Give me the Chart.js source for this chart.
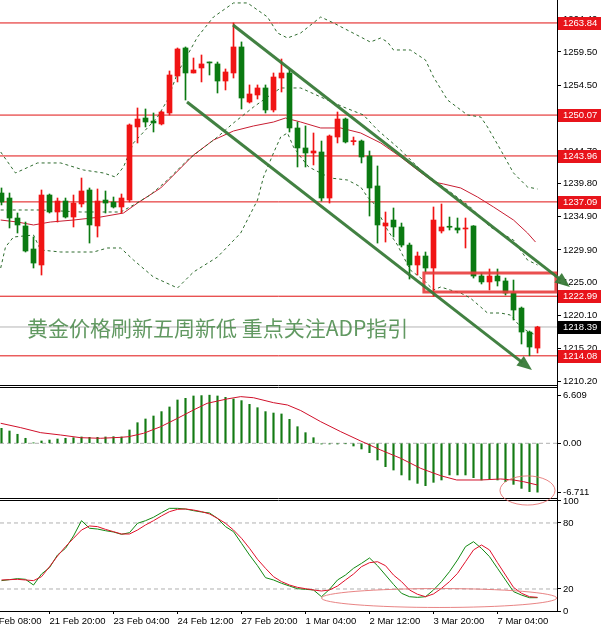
<!DOCTYPE html>
<html>
<head>
<meta charset="utf-8">
<title>XAUUSD H4</title>
<script src="https://cdn.jsdelivr.net/npm/chart.js@4.4.1/dist/chart.umd.min.js"></script>
<style>
  html, body { margin: 0; padding: 0; background: #fff; }
  #wrap { width: 601px; height: 630px; }
</style>
</head>
<body>
<div id="wrap"><canvas id="chart" width="601" height="630"></canvas></div>
<script>
// gold 4H candles, bar 0 is the left edge of the window
var opens  = [1238.42,1237.67,1234.68,1233.49,1230.05,1227.66,1238.12,1235.58,1237.22,1234.83,
              1236.78,1238.87,1233.49,1237.37,1237.07,1236.33,1237.37,1248.29,1249.63,1249.18,
              1248.74,1250.38,1255.91,1260.10,1256.36,1257.11,1257.90,1257.71,1255.16,1256.36,
              1260.25,1252.02,1253.07,1254.12,1250.83,1255.61,1256.36,1248.14,1245.15,1244.40,
              1244.55,1237.67,1246.79,1249.48,1246.10,1246.19,1243.95,1239.47,1233.49,1234.38,
              1233.34,1230.64,1227.66,1229.00,1227.21,1232.74,1233.40,1233.19,1233.04,1233.49,
              1226.01,1225.12,1226.01,1225.27,1223.47,1221.22,1217.64,1215.24];
var highs  = [1239.17,1238.42,1235.43,1234.08,1231.84,1238.87,1238.27,1237.67,1237.67,1238.12,
              1240.66,1239.17,1239.02,1238.72,1237.82,1238.27,1248.74,1251.13,1250.98,1250.38,
              1250.68,1256.66,1260.10,1260.25,1258.60,1259.05,1258.00,1258.00,1256.96,1263.84,
              1261.00,1254.57,1254.57,1254.57,1256.36,1258.45,1256.81,1249.03,1248.44,1247.39,
              1246.19,1247.09,1250.53,1249.63,1246.79,1246.34,1244.70,1242.46,1235.58,1236.18,
              1233.93,1230.94,1229.60,1229.60,1236.33,1236.78,1234.83,1234.68,1234.68,1233.55,
              1226.46,1227.06,1227.06,1225.71,1225.41,1221.38,1217.79,1218.50];
var lows   = [1236.63,1233.19,1232.44,1229.60,1227.21,1226.16,1235.43,1234.08,1234.68,1233.34,
              1236.33,1230.94,1231.84,1235.43,1236.18,1235.43,1237.07,1245.90,1248.29,1247.54,
              1248.59,1250.08,1255.02,1252.32,1256.36,1255.02,1256.06,1253.37,1253.82,1255.61,
              1250.98,1251.87,1252.47,1250.38,1250.53,1253.52,1247.54,1242.31,1242.31,1242.61,
              1237.22,1236.92,1245.90,1245.90,1245.60,1242.91,1234.98,1230.94,1231.09,1231.84,
              1230.35,1225.56,1226.16,1226.61,1222.99,1232.44,1232.89,1232.44,1230.20,1225.71,
              1224.82,1223.92,1224.52,1223.17,1219.43,1215.85,1214.08,1214.50];
var closes = [1237.07,1234.68,1233.64,1229.75,1227.95,1238.12,1235.58,1237.22,1234.83,1236.92,
              1238.72,1233.64,1237.22,1236.92,1236.33,1237.67,1248.59,1249.48,1249.03,1248.89,
              1250.53,1256.06,1259.95,1256.36,1256.81,1257.71,1257.86,1255.16,1256.51,1260.25,
              1252.62,1253.22,1254.12,1250.83,1255.76,1256.36,1248.14,1245.15,1244.40,1244.70,
              1237.67,1246.94,1249.48,1246.05,1246.19,1243.80,1239.17,1233.64,1233.93,1233.34,
              1230.64,1227.66,1229.00,1227.21,1234.38,1233.34,1233.30,1232.89,1233.19,1226.01,
              1225.12,1226.01,1225.27,1223.47,1220.93,1217.64,1215.40,1218.39];

// bollinger bands and moving average as [bar, price]
var bbUpper = [[-0.1,1244.55],[1.75,1241.41],[4.5,1242.91],[7.4,1242.91],[10.25,1241.86],[12.75,1241.41],
  [14.25,1240.81],[15.25,1242.31],[16.5,1245.90],[19.5,1249.78],[20.75,1252.32],[22,1256.36],[24.5,1261.74],
  [26.5,1264.73],[29,1266.83],[30.75,1266.83],[33.25,1264.73],[34.5,1262.34],[35.75,1261.59],[37.4,1262.34],
  [39.9,1264.73],[41.5,1263.84],[44.9,1261.74],[46.1,1260.99],[47.4,1261.59],[48.25,1260.99],[49,1259.80],
  [51.1,1259.80],[53,1258.30],[54,1255.76],[55.75,1252.32],[58.25,1250.08],[59.9,1249.78],[60.75,1248.29],
  [62.4,1244.85],[64,1241.41],[65.75,1239.32],[67,1239.02]];
var bbMiddle = [[-0.1,1235.88],[4.9,1235.88],[9.9,1235.58],[14.9,1235.58],[16.5,1236.63],[18.6,1238.12],
  [20.75,1240.36],[23.25,1243.35],[27,1246.79],[29,1248.89],[31.5,1251.27],[33.25,1252.77],[34.9,1254.12],
  [37.4,1254.12],[40.75,1252.32],[42.75,1251.27],[45.25,1250.08],[47,1247.84],[49.9,1244.85],[52.4,1241.86],
  [54,1240.36],[56.1,1238.57],[58.6,1236.33],[61.1,1233.34],[64,1231.39],[65.75,1228.40],[67,1227.66]];
var bbLower = [[-0.1,1227.21],[0.5,1230.35],[1.5,1231.84],[4,1232.14],[4.9,1229.90],[7.4,1229.60],[11.5,1229.60],
  [13.25,1230.20],[14.9,1230.20],[16.5,1228.40],[19,1225.86],[22,1224.22],[24,1226.61],[27,1228.85],[29.9,1232.44],
  [32,1237.37],[32.75,1240.81],[34,1244.40],[34.9,1246.79],[35.75,1247.39],[36.5,1245.30],[37.4,1243.80],
  [38.4,1242.31],[39.9,1241.41],[41.1,1240.66],[43.25,1240.36],[44.9,1239.32],[45.75,1237.82],[46.5,1236.92],
  [48.25,1232.89],[49.5,1230.64],[51.1,1226.91],[52.75,1225.41],[54,1223.92],[54.9,1224.37],[56.1,1223.92],
  [57.4,1223.47],[58.6,1222.72],[59.9,1221.38],[60.75,1220.48],[62.4,1220.48],[63.6,1220.18],[64.9,1218.39],
  [66.1,1217.49],[67,1217.19]];
var maLine = [[-0.1,1234.38],[2,1234.08],[4,1233.64],[6.1,1234.08],[9,1234.38],[12.4,1234.83],[15.25,1235.43],
  [17,1236.92],[19.9,1239.17],[22.4,1242.16],[24,1244.10],[26.5,1246.34],[29,1247.69],[31.5,1248.44],[34,1249.03],
  [35.5,1249.63],[37.4,1249.03],[39.9,1248.14],[42.4,1248.14],[44.9,1247.39],[47.4,1245.90],[49.9,1243.80],
  [52,1241.86],[54,1240.07],[55.25,1239.77],[57.4,1239.17],[59.5,1237.82],[61.5,1236.33],[64,1234.38],
  [65.75,1232.44],[66.75,1231.09]];

// MACD histogram per bar and its signal line
var macdHist = [2.06,1.69,1.24,0.69,0.04,0.32,0.45,0.59,0.69,0.77,
                0.87,0.82,0.82,0.87,0.91,0.87,1.83,2.83,3.34,3.75,
                4.35,4.99,5.95,6.18,6.50,6.55,6.61,6.50,6.31,6.09,
                5.86,5.35,4.89,4.35,4.16,4.03,3.29,2.28,1.46,0.77,
                -0.1,-0.1,-0.1,-0.05,-0.37,-0.78,-1.29,-2.29,-3.21,-3.67,
                -4.35,-5.04,-5.50,-5.82,-5.36,-5.04,-4.35,-4.35,-4.35,-4.72,
                -5.04,-4.90,-5.04,-5.27,-5.64,-6.19,-6.64,-6.71];
var macdSignal = [[-0.1,2.75],[2.4,2.15],[4.9,1.46],[7.4,1.14],[9.9,0.77],[12.4,0.69],[14.9,0.82],[15.9,0.91],
  [17.75,1.37],[19.9,2.28],[22,3.43],[24,4.58],[25.7,5.49],[28.2,6.09],[29.9,6.41],[31.5,6.26],[34,5.58],
  [35.75,5.26],[37.4,4.5],[39.9,2.97],[42.4,1.60],[44.9,0.32],[47.4,-0.92],[49.9,-2.06],[52.4,-3.44],
  [54.9,-4.45],[56.9,-5.04],[59.9,-5.04],[62.4,-4.90],[64,-5.04],[65.25,-5.27],[67,-5.73]];

// stochastic %K / %D
var stochK = [27.6,28.5,29.4,28.8,23.6,33.6,39.4,50.9,57.0,68.2,
              82.1,75.2,74.5,73.0,71.8,69.7,71.2,79.7,82.1,85.2,
              89.4,93.3,93.3,92.7,91.2,90.0,89.1,84.2,76.7,72.1,
              61.5,50.9,41.2,30.3,28.2,25.2,22.7,20.3,19.7,19.1,
              13.0,19.7,28.2,32.7,38.8,43.3,48.2,41.2,32.7,24.2,
              16.1,13.0,12.4,13.0,19.1,26.7,35.8,46.4,58.5,63.0,
              56.9,49.4,38.8,28.2,17.6,14.5,12.1,12.1];
var stochD = [28.2,28.5,28.8,28.2,27.6,31.2,40.3,50.0,58.5,66.1,
              73.6,77.3,76.7,74.2,72.1,70.0,70.0,73.6,78.2,82.1,
              86.4,90.3,92.4,92.7,91.8,90.3,88.2,84.2,79.7,73.6,
              66.1,57.0,47.0,38.8,31.2,26.7,23.6,21.5,20.3,19.1,
              18.2,19.1,22.7,28.2,33.6,40.3,43.9,44.8,41.2,32.7,
              26.7,19.1,15.2,13.0,15.5,20.6,26.7,34.2,44.8,55.5,
              60.0,55.5,43.9,32.7,21.5,16.1,13.0,12.4];

var levels = [1263.84, 1250.07, 1243.96, 1237.09, 1222.99, 1214.08];
var lastPrice = 1218.39;
var priceTicks = [1264.40, 1259.50, 1254.50, 1249.60, 1244.70, 1239.80, 1234.90, 1229.90, 1225.00, 1220.10, 1215.20, 1210.20];
var macdTicks = [6.609, 0, -6.711];
var stochTicks = [100, 80, 20, 0];
var stochLevels = [80, 20];
var xTickBars = [-2, 6, 14, 22, 30, 38, 46, 54, 62];
var xTickLabels = ['20 Feb 08:00', '21 Feb 20:00', '23 Feb 04:00', '24 Feb 12:00', '27 Feb 20:00',
                   '1 Mar 04:00', '2 Mar 12:00', '3 Mar 20:00', '7 Mar 04:00'];

// hand drawn marks on the screenshot, in bar / price units
var zoneBars = [52.8, 69.3], zonePrices = [1223.62, 1226.46];
var arrows = [[28.94, 1263.54, 71.06, 1224.37], [23.19, 1252.02, 66.31, 1211.96]];
var macdRing = [65.75, -6.48, 3.44, 2.0];
var stochRing = [54.7, 11.8, 14.7, 8.6];
var noteText = '黄金价格刷新五周新低 重点关注ADP指引';
var noteAt = [3.2, 1218.3];

var X_MIN = -0.1875, X_MAX = 69.4375;
var UP = '#f01414', DOWN = '#0b7a12';

Chart.defaults.font.family = '"Liberation Sans", Arial, sans-serif';

function pts(pairs) { return pairs.map(function (p) { return {x: p[0], y: p[1]}; }); }
function flat(v) { return [{x: X_MIN, y: v}, {x: X_MAX, y: v}]; }
function line(data, color, axis, dash, order) {
  return {type: 'line', data: data, borderColor: color, borderWidth: 1, borderDash: dash || [],
          pointRadius: 0, tension: 0, fill: false, yAxisID: axis, order: order || 3};
}

var idx = closes.map(function (c, i) { return i; });
var candleColors = idx.map(function (i) { return closes[i] > opens[i] ? UP : DOWN; });

var datasets = [
  {type: 'bar', data: idx.map(function (i) { return {x: i, y: [opens[i], closes[i]]}; }),
   backgroundColor: candleColors, barThickness: 5, minBarLength: 1, grouped: false, yAxisID: 'y', order: 1},
  {type: 'bar', data: idx.map(function (i) { return {x: i, y: [lows[i], highs[i]]}; }),
   backgroundColor: candleColors, barThickness: 1, grouped: false, yAxisID: 'y', order: 2},
  line(pts(bbUpper), '#2e6b2e', 'y', [3, 3]),
  line(pts(bbMiddle), '#2e6b2e', 'y', [3, 3]),
  line(pts(bbLower), '#2e6b2e', 'y', [3, 3]),
  line(pts(maLine), '#c81e32', 'y')
];
levels.forEach(function (v) { datasets.push(line(flat(v), '#e01010', 'y', null, 4)); });
datasets.push(line(flat(lastPrice), '#b4b4b4', 'y', null, 5));

datasets.push(line(pts(macdSignal), '#d0102a', 'yMacd', null, 1));
datasets.push({type: 'bar', data: idx.map(function (i) { return {x: i, y: macdHist[i]}; }),
  backgroundColor: '#137a13', barThickness: 1.5, grouped: false, yAxisID: 'yMacd', order: 2});
datasets.push(line(flat(0), '#b0b0b0', 'yMacd', [4, 3], 5));

datasets.push(line(idx.map(function (i) { return {x: i, y: stochD[i]}; }), '#e0102a', 'yStoch', null, 1));
datasets.push(line(idx.map(function (i) { return {x: i, y: stochK[i]}; }), '#118811', 'yStoch', null, 2));
stochLevels.forEach(function (v) { datasets.push(line(flat(v), '#b0b0b0', 'yStoch', [4, 3], 5)); });

function fitY(s) { s.width = 44; s.paddingTop = 0; s.paddingBottom = 0; }
function yAxis(weight, min, max, ticks, fmt) {
  return {
    type: 'linear', position: 'right', stack: 'panes', stackWeight: weight, min: min, max: max,
    afterBuildTicks: function (s) { s.ticks = ticks.map(function (v) { return {value: v}; }); },
    afterFit: fitY,
    grid: {drawOnChartArea: false, drawTicks: true, tickLength: 4, color: '#000'},
    border: {display: true, color: '#000'},
    ticks: {color: '#000', font: {size: 9.5}, padding: 2, autoSkip: false, callback: fmt}
  };
}

var overlay = {
  id: 'overlay',
  afterDraw: function (chart) {
    var ctx = chart.ctx, area = chart.chartArea, sx = chart.scales.x, sy = chart.scales.y,
        sm = chart.scales.yMacd, ss = chart.scales.yStoch;
    ctx.save();

    // double rule between the panes
    ctx.strokeStyle = '#000';
    ctx.lineWidth = 1;
    [sy.bottom, sm.bottom].forEach(function (b) {
      b = Math.round(b);
      ctx.beginPath();
      ctx.moveTo(area.left, b - 0.5); ctx.lineTo(area.right, b - 0.5);
      ctx.moveTo(area.left, b + 1.5); ctx.lineTo(area.right, b + 1.5);
      ctx.stroke();
    });

    // price tags on the axis
    ctx.font = '9.5px "Liberation Sans"';
    ctx.textAlign = 'left';
    ctx.textBaseline = 'middle';
    function tag(v, bg) {
      var py = Math.round(sy.getPixelForValue(v));
      ctx.fillStyle = bg;
      ctx.fillRect(area.right + 1, py - 6, chart.width - area.right - 1, 13);
      ctx.fillStyle = '#fff';
      ctx.fillText(v.toFixed(2), area.right + 6, py + 0.5);
    }
    levels.forEach(function (v) { tag(v, '#e8141b'); });
    tag(lastPrice, '#000');

    // note text
    ctx.font = '21px "Noto Sans CJK SC"';
    ctx.fillStyle = 'rgba(70,135,70,0.85)';
    ctx.fillText(noteText, sx.getPixelForValue(noteAt[0]), sy.getPixelForValue(noteAt[1]));

    // support zone box
    ctx.strokeStyle = 'rgba(232,60,60,0.9)';
    ctx.lineWidth = 3;
    var bx1 = sx.getPixelForValue(zoneBars[0]), bx2 = sx.getPixelForValue(zoneBars[1]);
    var by1 = sy.getPixelForValue(zonePrices[1]), by2 = sy.getPixelForValue(zonePrices[0]);
    ctx.strokeRect(bx1, by1, bx2 - bx1, by2 - by1);

    // channel arrows
    ctx.strokeStyle = ctx.fillStyle = 'rgba(56,122,56,0.95)';
    arrows.forEach(function (a) {
      var x1 = sx.getPixelForValue(a[0]), y1 = sy.getPixelForValue(a[1]);
      var x2 = sx.getPixelForValue(a[2]), y2 = sy.getPixelForValue(a[3]);
      var ang = Math.atan2(y2 - y1, x2 - x1), head = 15, half = 6;
      var c = Math.cos(ang), s = Math.sin(ang);
      ctx.lineWidth = 3;
      ctx.beginPath();
      ctx.moveTo(x1, y1);
      ctx.lineTo(x2 - head * 0.8 * c, y2 - head * 0.8 * s);
      ctx.stroke();
      ctx.beginPath();
      ctx.moveTo(x2, y2);
      ctx.lineTo(x2 - head * c + half * s, y2 - head * s - half * c);
      ctx.lineTo(x2 - head * c - half * s, y2 - head * s + half * c);
      ctx.closePath();
      ctx.fill();
    });

    // rings around the oversold readings
    ctx.strokeStyle = 'rgba(228,110,110,0.85)';
    ctx.lineWidth = 1;
    [[sm, macdRing], [ss, stochRing]].forEach(function (r) {
      var sc = r[0], e = r[1];
      var cx = sx.getPixelForValue(e[0]), cy = sc.getPixelForValue(e[1]);
      var rx = sx.getPixelForValue(e[0] + e[2]) - cx, ry = cy - sc.getPixelForValue(e[1] + e[3]);
      ctx.beginPath();
      ctx.ellipse(cx, cy, rx, ry, 0, 0, Math.PI * 2);
      ctx.stroke();
    });
    ctx.restore();
  }
};

new Chart(document.getElementById('chart'), {
  type: 'bar',
  data: {datasets: datasets},
  plugins: [overlay],
  options: {
    responsive: false,
    animation: false,
    events: [],
    layout: {padding: 0, autoPadding: false},
    plugins: {legend: {display: false}, tooltip: {enabled: false}},
    scales: {
      x: {
        type: 'linear', position: 'bottom', min: X_MIN, max: X_MAX, offset: false,
        afterBuildTicks: function (s) { s.ticks = xTickBars.map(function (v) { return {value: v}; }); },
        afterFit: function (s) { s.height = 19; s.paddingLeft = 0; s.paddingRight = 0; },
        grid: {drawOnChartArea: false, tickLength: 3, color: '#000', offset: false},
        border: {display: true, color: '#000'},
        ticks: {align: 'start', autoSkip: false, maxRotation: 0, minRotation: 0, padding: 2,
                color: '#000', font: {size: 9.5},
                callback: function (v) { return xTickLabels[xTickBars.indexOf(v)]; }}
      },
      y: yAxis(386, 1209.57, 1267.27, priceTicks, function (v) { return v.toFixed(2); }),
      yMacd: yAxis(113, -7.65, 7.87, macdTicks, function (v) { return v === 0 ? '0.00' : v.toFixed(3); }),
      yStoch: yAxis(112, 0, 101.8, stochTicks, function (v) { return String(v); })
    }
  }
});
</script>
</body>
</html>
